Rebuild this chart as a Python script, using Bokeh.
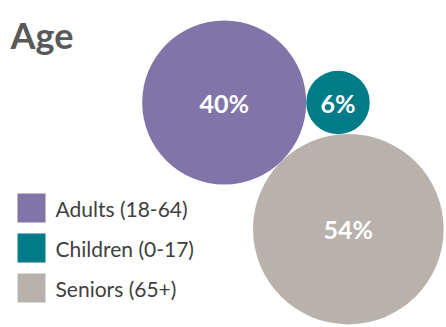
import math
from bokeh.plotting import figure
from bokeh.models import Range1d, ColumnDataSource
from bokeh.core.properties import value
from bokeh.embed import file_html
from bokeh.resources import INLINE

title = "Age"
categories = ["Adults (18-64)", "Children (0-17)", "Seniors (65+)"]
shares = [40, 6, 54]
labels = ["40%", "6%", "54%"]
colors = ["#8074A8", "#007C89", "#B9B1AC"]

FONT = "Lato"
W, H = 446, 327
p = figure(width=W, height=H, output_backend="svg", toolbar_location=None,
           x_range=Range1d(0, W), y_range=Range1d(H, 0), min_border=0)
p.axis.visible = False
p.grid.visible = False
p.outline_line_color = None
p.background_fill_color = "white"

# bubble sizes: area proportional to share
k = 12.97
r = [k * math.sqrt(v) for v in shares]
# packing: first bubble anchored, second tangent to its right, third tangent to both below
ax, ay = 223.7, 102.0
cx, cy = ax + r[0] + r[1], ay
dAC = r[0] + r[1]
dAS = r[0] + r[2]
dCS = r[1] + r[2]
cos_t = (dAC**2 + dAS**2 - dCS**2) / (2 * dAC * dAS)
t = math.acos(cos_t)
sx, sy = ax + dAS * math.cos(t), ay + dAS * math.sin(t)
xs = [ax, cx, sx]
ys = [ay, cy, sy]

src = ColumnDataSource(dict(x=xs, y=ys, r=r, c=colors, lab=labels))
p.circle(x="x", y="y", radius="r", fill_color="c", line_color=None, source=src)
p.text(x="x", y="y", text="lab", source=src, text_color="white",
       text_font=value(FONT), text_font_style="bold", text_font_size="25px",
       text_align="center", text_baseline="middle")

# title
p.text(x=[10], y=[34], text=[title], text_color="#595959", text_font=value(FONT),
       text_font_style="bold", text_font_size="36px", text_baseline="alphabetic")

# legend
ly = [207.5 + 40 * i for i in range(len(categories))]
p.rect(x=[31] * len(categories), y=ly, width=28, height=29, fill_color=colors, line_color=None)
p.text(x=[55] * len(categories), y=ly, text=categories, text_color="#404040",
       text_font=value(FONT), text_font_size="21px", text_baseline="middle")

open("out.html", "w").write(file_html(p, INLINE))
